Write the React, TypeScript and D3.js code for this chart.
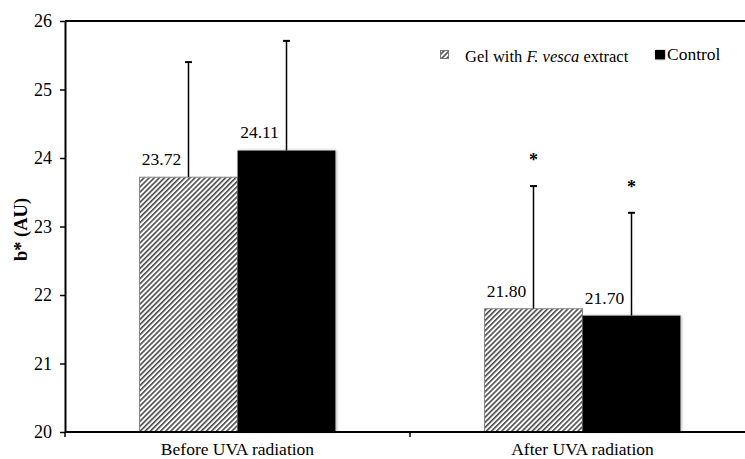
import React, { useRef, useEffect } from 'react';
import * as d3 from 'd3';

const categories = ['Before UVA radiation', 'After UVA radiation'];
const seriesNames = ['Gel with F. vesca extract', 'Control'];
const gelValues = [23.72, 21.8];
const controlValues = [24.11, 21.7];
const gelErrors = [1.68, 1.79];
const controlErrors = [1.6, 1.5];
const gelStars = [false, true];
const controlStars = [false, true];
const yTicks = [20, 21, 22, 23, 24, 25, 26];

const W = 745;
const H = 459;
const FONT = 'Liberation Serif, Times New Roman, Times, serif';

const App = () => {
  const ref = useRef<SVGSVGElement>(null);

  useEffect(() => {
    const svg = d3.select(ref.current);
    svg.selectAll('*').remove();

    const left = 65, top = 21, bottom = 432, right = 755;

    const y = d3.scaleLinear().domain([20, 26]).range([bottom, top]);
    const x0 = d3.scaleBand().domain(categories).range([left, right]);
    const x1 = d3.scaleBand().domain(seriesNames)
      .range([0, x0.bandwidth()]).paddingOuter(0.76).paddingInner(0);

    const defs = svg.append('defs');
    const step = 3.6;
    const pat = defs.append('pattern')
      .attr('id', 'hatch')
      .attr('patternUnits', 'userSpaceOnUse')
      .attr('width', step).attr('height', step)
      .attr('patternTransform', 'rotate(45)');
    pat.append('rect').attr('width', step).attr('height', step).attr('fill', '#fff');
    pat.append('line')
      .attr('x1', 0.8).attr('y1', 0).attr('x2', 0.8).attr('y2', step)
      .attr('stroke', '#2e2e2e').attr('stroke-width', 1.4);

    const f = defs.append('filter').attr('id', 'shadow')
      .attr('x', '-10%').attr('y', '-10%').attr('width', '120%').attr('height', '120%');
    f.append('feDropShadow').attr('dx', 1).attr('dy', 0).attr('stdDeviation', 1.5)
      .attr('flood-color', '#888').attr('flood-opacity', 0.7);

    // frame line on top
    svg.append('line').attr('x1', left).attr('x2', right).attr('y1', top).attr('y2', top)
      .attr('stroke', '#000').attr('stroke-width', 1.8);

    const rows = categories.map((c, i) => ({
      cat: c,
      items: [
        { s: seriesNames[0], v: gelValues[i], e: gelErrors[i], star: gelStars[i] },
        { s: seriesNames[1], v: controlValues[i], e: controlErrors[i], star: controlStars[i] },
      ],
    }));

    const g = svg.append('g');
    rows.forEach(r => {
      r.items.forEach((d, j) => {
        const bx = x0(r.cat)! + x1(d.s)!;
        const bw = x1.bandwidth();
        const cx = bx + bw / 2;
        if (j === 0) {
          g.append('rect')
            .attr('x', bx).attr('y', y(d.v)).attr('width', bw).attr('height', y(20) - y(d.v))
            .attr('fill', 'url(#hatch)').attr('stroke', '#888').attr('stroke-width', 1);
        } else {
          g.append('rect')
            .attr('x', bx).attr('y', y(d.v)).attr('width', bw).attr('height', y(20) - y(d.v))
            .attr('fill', '#050505').attr('filter', 'url(#shadow)');
        }
        // error bar
        const ey = y(d.v + d.e);
        g.append('line').attr('x1', cx).attr('x2', cx).attr('y1', y(d.v)).attr('y2', ey)
          .attr('stroke', '#000').attr('stroke-width', 1.5);
        g.append('line').attr('x1', cx - 3.5).attr('x2', cx + 3.5).attr('y1', ey).attr('y2', ey)
          .attr('stroke', '#000').attr('stroke-width', 2);
        if (d.star) {
          g.append('text').attr('x', cx).attr('y', ey - 20)
            .attr('text-anchor', 'middle').style('font-family', FONT)
            .style('font-size', '18px').style('font-weight', 'bold').text('*');
        }
        // value label
        g.append('text').attr('x', cx - 27).attr('y', y(d.v) - 12)
          .attr('text-anchor', 'middle').style('font-family', FONT)
          .style('font-size', '17.5px').text(d3.format('.2f')(d.v));
      });
    });

    // y axis
    const ya = svg.append('g').attr('transform', `translate(${left},0)`)
      .call(d3.axisLeft(y).tickValues(yTicks).tickFormat(d3.format('d')).tickSize(5).tickSizeOuter(0));
    ya.attr('font-family', null).attr('font-size', null);
    ya.select('.domain').attr('stroke-width', 2);
    ya.selectAll('.tick line').attr('stroke-width', 1.5);
    ya.selectAll('text').style('font-family', FONT).style('font-size', '18px').attr('fill', '#000')
      .attr('x', -13);

    // x axis
    const xa = svg.append('g').attr('transform', `translate(0,${bottom})`);
    xa.append('line').attr('x1', left).attr('x2', right).attr('stroke', '#000').attr('stroke-width', 2);
    const bounds = [left, ...categories.map(c => x0(c)! + x0.bandwidth())];
    bounds.forEach(b => {
      xa.append('line').attr('x1', b).attr('x2', b).attr('y1', 0).attr('y2', 5)
        .attr('stroke', '#000').attr('stroke-width', 1.5);
    });
    categories.forEach(c => {
      xa.append('text').attr('x', x0(c)! + x0.bandwidth() / 2).attr('y', 23)
        .attr('text-anchor', 'middle').style('font-family', FONT).style('font-size', '17.5px')
        .text(c);
    });

    // y label
    svg.append('text')
      .attr('transform', `translate(27,${(top + bottom) / 2 + 3}) rotate(-90)`)
      .attr('text-anchor', 'middle').style('font-family', FONT)
      .style('font-size', '18.5px').style('font-weight', 'bold').text('b* (AU)');

    // legend
    const lg = svg.append('g');
    lg.append('rect').attr('x', 440.5).attr('y', 50.5).attr('width', 8).attr('height', 8)
      .attr('fill', 'url(#hatch)').attr('stroke', '#777').attr('stroke-width', 1);
    const lt = lg.append('text').attr('x', 465).attr('y', 62)
      .style('font-family', FONT).style('font-size', '16.5px');
    lt.append('tspan').text('Gel with ');
    lt.append('tspan').style('font-style', 'italic').text('F. vesca');
    lt.append('tspan').text(' extract');
    lg.append('rect').attr('x', 655).attr('y', 50).attr('width', 10).attr('height', 9.5)
      .attr('fill', '#050505').attr('filter', 'url(#shadow)');
    lg.append('text').attr('x', 667).attr('y', 60)
      .style('font-family', FONT).style('font-size', '17.5px').text('Control');
  }, []);

  return (
    <svg ref={ref} width={W} height={H}
      style={{ position: 'absolute', left: 0, top: 0, background: '#fff' }} />
  );
};

export default App;
